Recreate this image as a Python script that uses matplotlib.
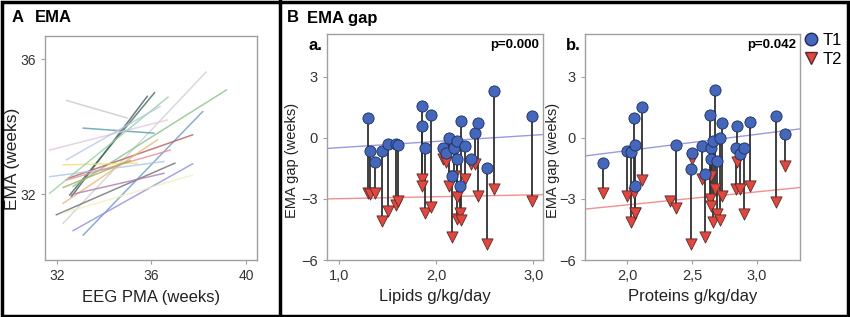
import numpy as np
import matplotlib.pyplot as plt
from matplotlib.patches import Rectangle
from matplotlib.lines import Line2D

plt.rcParams['font.family'] = ['Liberation Sans', 'DejaVu Sans']

# ---- panel A: EMA trajectories (EEG PMA -> EMA), start/end per subject
pma_start = [32.4, 32.61, 32.54, 32.26, 32.68, 33.11, 33.11, 32.47, 32.68, 31.97,
             31.69, 32.26, 31.69, 31.69, 32.26, 32.54, 32.26, 32.4, 32.4, 32.26]
pma_end = [34.96, 35.82, 36.13, 38.31, 39.17, 38.17, 36.1, 37.74, 37.74, 36.99,
           36.67, 35.39, 36.53, 36.7, 36.25, 36.53, 37.74, 36.36, 36.8, 35.1]
ema_start = [34.78, 31.93, 31.98, 31.14, 32.23, 30.79, 33.96, 32.47, 30.92, 31.39,
             33.31, 32.87, 32.52, 32.03, 31.73, 31.98, 31.44, 33.02, 32.42, 32.2]
ema_end = [34.26, 34.90, 35.01, 35.62, 35.09, 34.45, 33.81, 33.76, 32.90, 32.92,
           34.20, 32.92, 32.97, 34.88, 33.61, 32.62, 32.57, 34.6, 33.31, 33.0]
line_colors = ['#c8c8c8', '#4a5a6a', '#3f6a5a', '#d0d0d0', '#8cc08c', '#6f98c8',
               '#5a9aa8', '#b06060', '#8f8fe0', '#707070', '#e0c8e0', '#f0e070',
               '#a8c8e8', '#98d0a8', '#e8b878', '#b07cb0', '#f0f0c0', '#b8c8e0',
               '#e89090', '#a0b060']

# ---- panel B a: lipids
lip_x = [1.30, 1.32, 1.37, 1.44, 1.50, 1.59, 1.61, 1.85, 1.85, 1.89, 1.95, 2.07, 2.13,
         2.10, 2.16, 2.18, 2.21, 2.21, 2.25, 2.26, 2.30, 2.36, 2.40, 2.43, 2.52, 2.60, 2.99]
lip_t1 = [0.97, -0.65, -1.2, -0.65, -0.32, -0.32, -0.35, 1.54, 0.57, -0.49, 1.13, -0.49, -0.03,
          -0.73, -1.86, -0.49, -0.16, -1.05, -2.35, 0.81, -0.4, -1.05, 0.24, 0.73, -1.46, 2.32, 1.09]
lip_t2 = [-2.7, -2.75, -2.7, -4.1, -3.6, -3.3, -3.1, -2.0, -2.35, -3.68, -3.4, -1.05, -2.35,
          -1.2, -4.86, -1.86, -2.9, -3.97, -3.68, -4.05, -2.0, -1.3, -1.3, -2.84, -5.19, -2.51, -3.11]
lip_fit_x = [0.876, 3.10]
lip_fit_t1 = [-0.52, 0.16]
lip_fit_t2 = [-3.0, -2.79]

# ---- panel B b: proteins
pro_x = [1.81, 2.00, 2.03, 2.05, 2.06, 2.06, 2.11, 2.33, 2.38, 2.49, 2.50, 2.58, 2.60, 2.64,
         2.65, 2.65, 2.66, 2.68, 2.69, 2.73, 2.72, 2.85, 2.84, 2.87, 2.90, 2.95, 3.15, 3.22]
pro_t1 = [-1.22, -0.65, -0.70, 0.98, -0.33, -2.37, 1.52, np.nan, -0.33, -1.51, -0.73, -0.41,
          -1.79, 1.14, -0.49, -1.06, -0.16, 2.33, -1.14, 0.73, -0.03, 0.57, -0.49, -0.77,
          -0.49, 0.76, 1.09, 0.21]
pro_t2 = [-2.73, -2.86, -4.13, -2.7, -3.68, -3.7, -2.07, -3.1, -3.43, -5.2, -1.02, -2.03,
          -4.88, -2.98, -3.37, -1.87, -4.11, -2.52, -3.74, -2.85, -4.02, -1.19, -2.49, -2.49,
          -3.74, -2.39, -3.17, -1.38]
pro_fit_x = [1.673, 3.335]
pro_fit_t1 = [-0.89, 0.44]
pro_fit_t2 = [-3.5, -2.44]

frame_col = '#a0a0a0'
tick_col = '#333333'
blue = '#4466bb'
blue_edge = '#1e2e5a'
red = '#e0473f'
red_edge = '#5a2a2a'

fig = plt.figure(figsize=(8.5, 3.17), dpi=100)


def style(ax):
    for s in ax.spines.values():
        s.set_color(frame_col)
        s.set_linewidth(1.0)
    ax.tick_params(colors=frame_col, labelcolor=tick_col, length=3, width=0.8)


# panel A
axA = fig.add_axes([45 / 850, 57 / 317, 212 / 850, 224 / 317])
for i in range(len(pma_start)):
    axA.plot([pma_start[i], pma_end[i]], [ema_start[i], ema_end[i]],
             color=line_colors[i], lw=1.1, alpha=0.8)
axA.set_xlim(31.49, 40.47)
axA.set_ylim(30.05, 36.69)
axA.set_xticks([32, 36, 40])
axA.set_yticks([32, 36])
style(axA)
axA.tick_params(labelsize=10)
axA.set_xlabel('EEG PMA (weeks)', fontsize=12, color='#222222', labelpad=5)
axA.set_ylabel('EMA (weeks)', fontsize=12.5, color='#222222')
axA.yaxis.set_label_coords(-0.118, 0.45)
fig.text(12 / 850, 1 - 18 / 317, 'A', fontsize=12, fontweight='bold', va='center')
fig.text(35 / 850, 1 - 18 / 317, 'EMA', fontsize=12, fontweight='bold', va='center')


def gap_panel(rect, x, t1, t2, fx, f1, f2, xlim, xticks, xtl, xlabel, letter, ptxt, ylab_x):
    ax = fig.add_axes(rect)
    ax.vlines(x, t1, t2, color='#303030', lw=1.3, zorder=2)
    ax.plot(fx, f1, color='#9a9ae0', lw=1.0, zorder=1)
    ax.plot(fx, f2, color='#f09090', lw=1.0, zorder=1)
    ax.scatter(x, t2, marker='v', s=65, color=red, edgecolor=red_edge,
               linewidth=0.6, zorder=3)
    ax.scatter(x, t1, marker='o', s=65, color=blue, edgecolor=blue_edge,
               linewidth=0.6, zorder=4)
    ax.set_xlim(*xlim)
    ax.set_ylim(-6, 5.1)
    ax.set_xticks(xticks)
    ax.set_xticklabels(xtl)
    ax.set_yticks([-6, -3, 0, 3])
    style(ax)
    ax.tick_params(labelsize=10.5)
    ax.set_xlabel(xlabel, fontsize=12, color='#222222', labelpad=4)
    ax.set_ylabel('EMA gap (weeks)', fontsize=10.5, color='#222222')
    ax.yaxis.set_label_coords(ylab_x, 0.44)
    ax.text(0.98, 0.95, ptxt, transform=ax.transAxes, ha='right', va='center',
            fontsize=9.5, fontweight='bold')
    ax.text(-0.02, 0.95, letter, transform=ax.transAxes, ha='right', va='center',
            fontsize=12, fontweight='bold')
    return ax


gap_panel([327 / 850, 57 / 317, 216 / 850, 226 / 317], lip_x, lip_t1, lip_t2,
          lip_fit_x, lip_fit_t1, lip_fit_t2, (0.876, 3.10), [1, 2, 3],
          ['1,0', '2,0', '3,0'], 'Lipids g/kg/day', 'a.', 'p=0.000', -0.13)
gap_panel([585 / 850, 57 / 317, 215 / 850, 226 / 317], pro_x, pro_t1, pro_t2,
          pro_fit_x, pro_fit_t1, pro_fit_t2, (1.673, 3.335), [2.0, 2.5, 3.0],
          ['2,0', '2,5', '3,0'], 'Proteins g/kg/day', 'b.', 'p=0.042', -0.118)

fig.text(287 / 850, 1 - 18 / 317, 'B', fontsize=12, fontweight='bold', va='center')
fig.text(307 / 850, 1 - 18 / 317, 'EMA gap', fontsize=12, fontweight='bold', va='center')

# legend
handles = [Line2D([], [], marker='o', ls='', markersize=9, color=blue,
                  markeredgecolor=blue_edge, label='T1'),
           Line2D([], [], marker='v', ls='', markersize=9, color=red,
                  markeredgecolor=red_edge, label='T2')]
fig.legend(handles=handles, loc='upper left', bbox_to_anchor=(803 / 850, 1 - 33 / 317),
           frameon=False, fontsize=12, handlelength=0.9, handletextpad=0.3,
           labelspacing=0.25, borderaxespad=0, borderpad=0)

# figure border and separator
fig.patches.append(Rectangle((0.002, 0.004), 0.996, 0.99, transform=fig.transFigure,
                             fill=False, edgecolor='black', lw=2.5))
fig.lines.append(Line2D([280 / 850, 280 / 850], [0, 1], transform=fig.transFigure,
                        color='black', lw=2.5))

fig.savefig('out.png', dpi=100)
